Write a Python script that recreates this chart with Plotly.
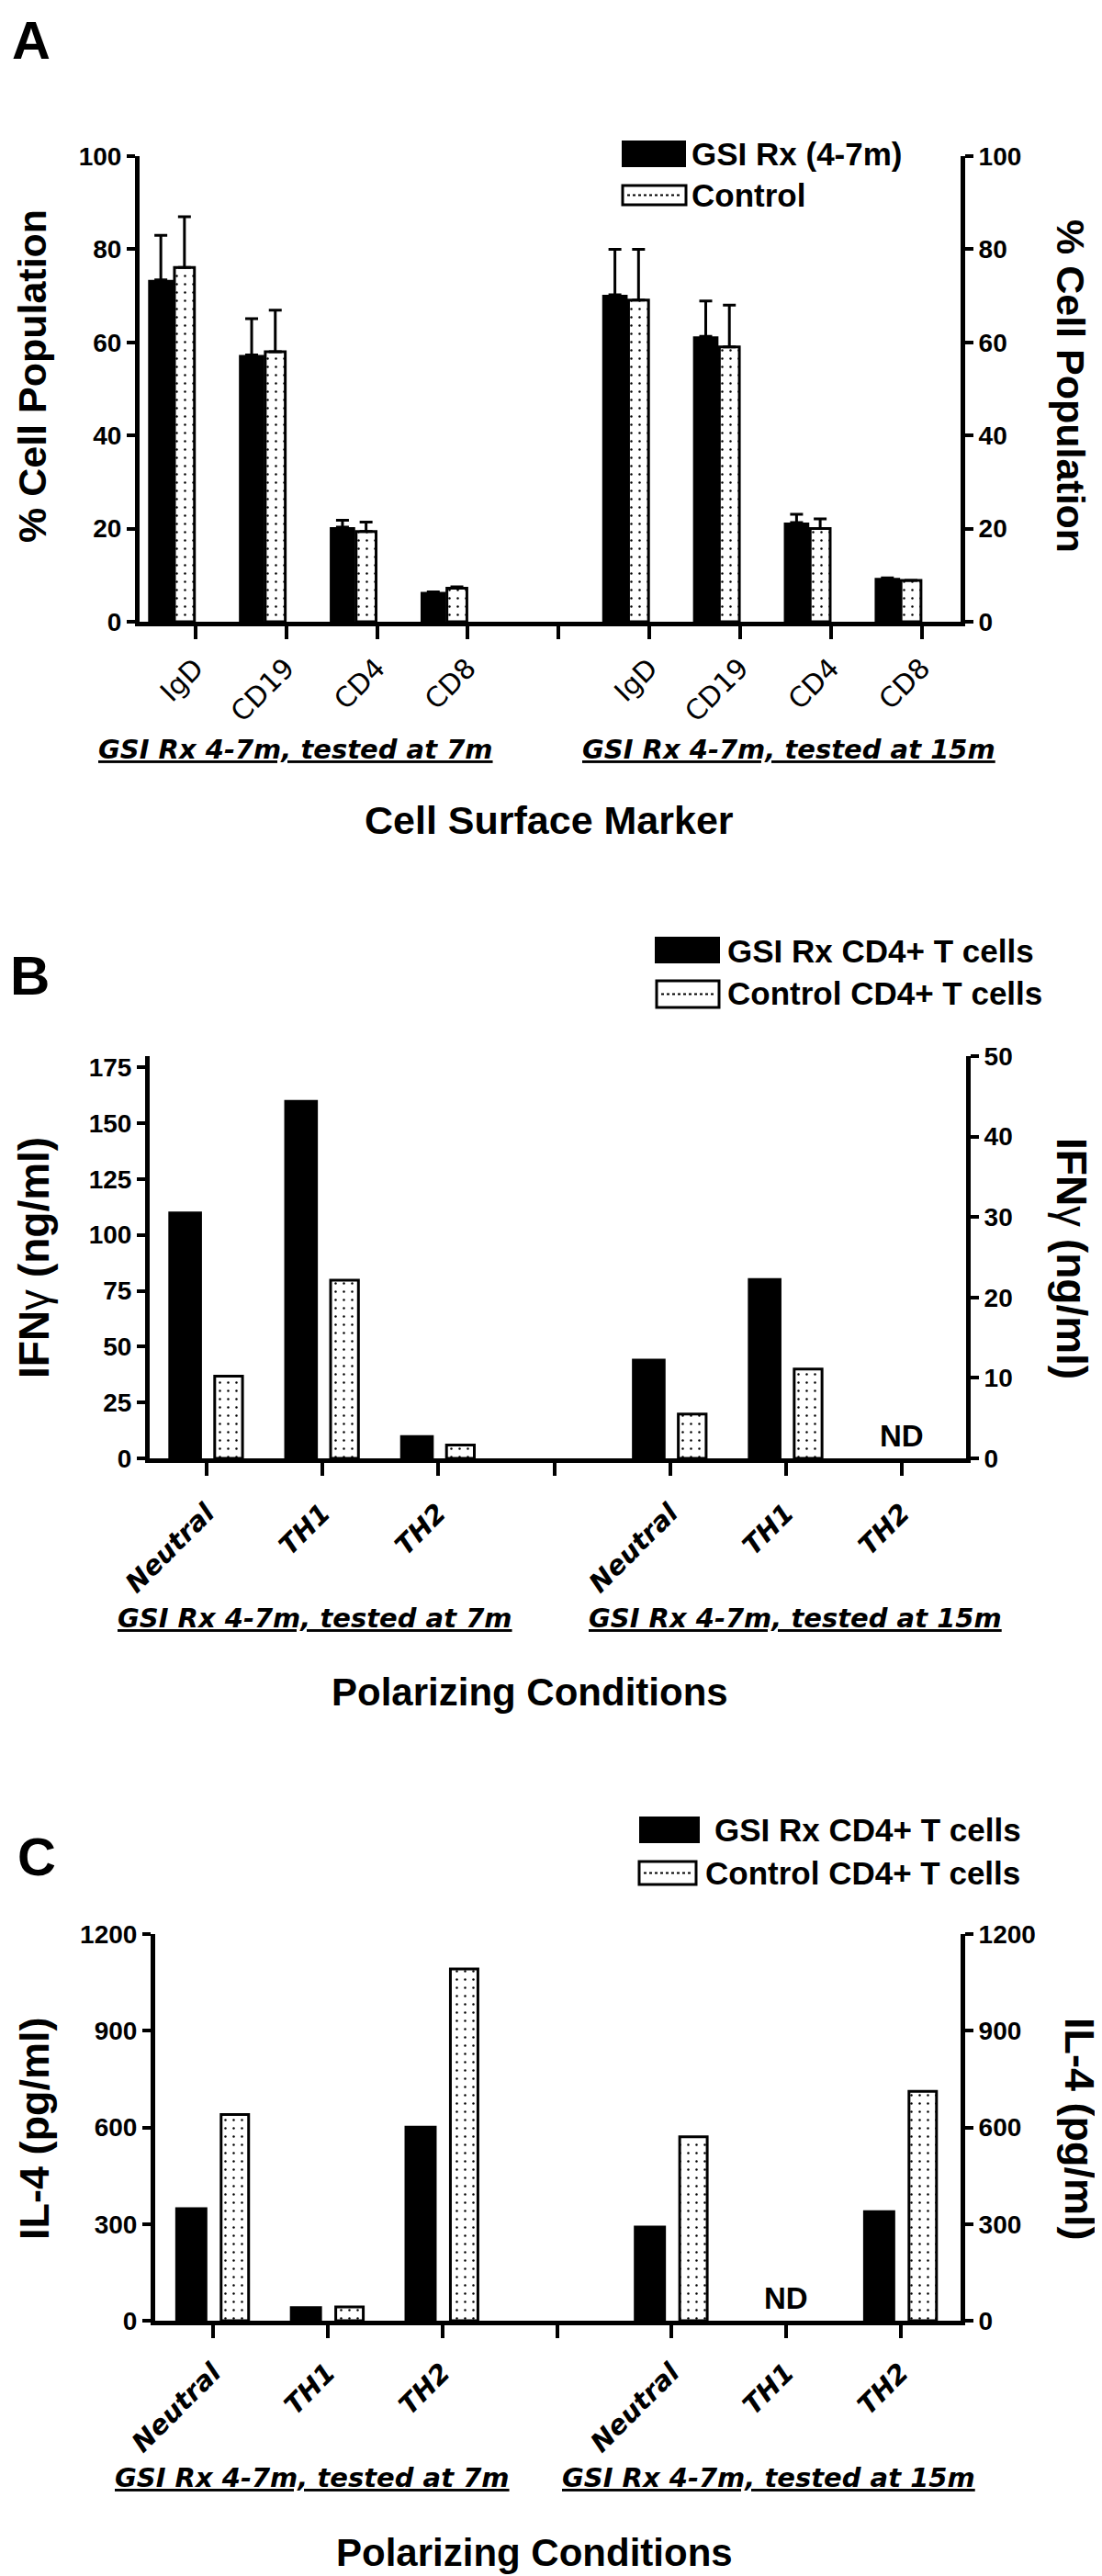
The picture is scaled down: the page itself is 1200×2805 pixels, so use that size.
import plotly.graph_objects as go

W, H = 1200, 2805
OFF = 8  # the page body keeps its default 8 px margin, so pull every placement back by it

# ---------------- data ----------------
group_labels = ["GSI Rx 4-7m, tested at 7m", "GSI Rx 4-7m, tested at 15m"]

# panel A: % cell population (mean, upper SEM)
a_markers = ["IgD", "CD19", "CD4", "CD8"]
a_gsi_7m = [73.4, 57.3, 20.3, 6.4]
a_gsi_7m_err = [9.6, 7.8, 1.5, 0.0]
a_ctrl_7m = [76.1, 58.0, 19.4, 7.2]
a_ctrl_7m_err = [10.9, 8.9, 2.0, 0.3]
a_gsi_15m = [70.2, 61.3, 21.3, 9.4]
a_gsi_15m_err = [9.8, 7.6, 1.8, 0.0]
a_ctrl_15m = [69.1, 59.0, 20.0, 8.9]
a_ctrl_15m_err = [10.9, 9.0, 2.1, 0.0]

# panel B: IFNg (ng/ml); 15m group is read on the right axis
b_conditions = ["Neutral", "TH1", "TH2"]
b_gsi_7m = [110.4, 160.4, 10.4]
b_ctrl_7m = [36.8, 79.7, 6.0]
b_gsi_15m = [12.4, 22.4, None]
b_ctrl_15m = [5.5, 11.1, None]

# panel C: IL-4 (pg/ml)
c_conditions = ["Neutral", "TH1", "TH2"]
c_gsi_7m = [352, 45, 605]
c_ctrl_7m = [640, 43, 1092]
c_gsi_15m = [295, None, 343]
c_ctrl_15m = [571, None, 712]

FONT = "Liberation Sans, Arial, Helvetica, sans-serif"
WIDE = "DejaVu Sans, Verdana, sans-serif"


def px(x):
    return (x - OFF) / W


def py(y):
    return 1 - (y - OFF) / H


fig = go.Figure()
layout = {}
annotations = []
shapes = []


def ctrl_marker():
    return dict(color="white", line=dict(color="black", width=3),
                pattern=dict(shape=".", fgcolor="black", bgcolor="white",
                             size=9, solidity=0.06, fillmode="replace"))


def add_panel(k, cats, gsi7, ctrl7, gsi15, ctrl15, box, xrange, yl, yr,
              offs, tickfont, standoff, errs=None):
    xs = "" if k == 1 else str(k)
    yl_n, yr_n = 2 * k - 1, 2 * k
    yl_s = "" if yl_n == 1 else str(yl_n)
    xname, ylname, yrname = "x" + xs, "y" + yl_s, "y" + str(yr_n)

    n = len(cats)
    pos7 = list(range(n))
    pos15 = [n + 1 + i for i in range(n)]
    gap = n

    (b_off, b_w), (c_off, c_w) = offs
    series = [(pos7, gsi7, ylname, "black", 0), (pos7, ctrl7, ylname, "ctrl", 1),
              (pos15, gsi15, yrname, "black", 2), (pos15, ctrl15, yrname, "ctrl", 3)]
    for xpos, vals, yax, kind, j in series:
        kw = dict(x=xpos, y=vals, xaxis=xname, yaxis=yax, showlegend=False)
        if kind == "black":
            kw.update(marker=dict(color="black", line=dict(width=0)), offset=b_off, width=b_w)
        else:
            kw.update(marker=ctrl_marker(), offset=c_off, width=c_w)
        if errs is not None:
            kw["error_y"] = dict(type="data", array=errs[j], arrayminus=[0] * n,
                                 symmetric=False, color="black", thickness=3, width=7)
        fig.add_trace(go.Bar(**kw))

    # ND marks where a value is missing
    for xp, v in zip(pos15, gsi15):
        if v is None:
            annotations.append(dict(x=xp, y=0, xref=xname, yref=yrname, text="ND",
                                    showarrow=False, yanchor="bottom", yshift=4,
                                    font=dict(family=FONT, size=33, color="black", weight="bold")))

    x0, x1, ytop, ybot = box
    tickvals = pos7 + [gap] + pos15
    ticktext = cats + [""] + cats
    layout["xaxis" + xs] = dict(domain=[px(x0), px(x1)], range=xrange, anchor=ylname,
                                tickvals=tickvals, ticktext=ticktext, tickangle=-45,
                                ticks="outside", ticklen=14, tickwidth=4, tickcolor="black",
                                showline=True, linewidth=5, linecolor="black",
                                showgrid=False, zeroline=False, tickfont=tickfont,
                                ticklabelstandoff=standoff, automargin=False)
    common = dict(ticks="outside", ticklen=9, tickwidth=4, tickcolor="black",
                  showline=True, linewidth=5, linecolor="black", showgrid=False,
                  zeroline=False, anchor=xname, automargin=False,
                  tickfont=dict(family=FONT, size=28, color="black", weight="bold"))
    layout["yaxis" + yl_s] = dict(domain=[py(ybot), py(ytop)], range=yl[0], tickvals=yl[1], **common)
    layout["yaxis" + str(yr_n)] = dict(range=yr[0], tickvals=yr[1], overlaying=ylname,
                                       side="right", **common)


bold_it = dict(family=WIDE, size=29, color="black", weight="bold", style="italic")

add_panel(1, a_markers, a_gsi_7m, a_ctrl_7m, a_gsi_15m, a_ctrl_15m,
          (152, 1046, 170, 677), [-0.614, 8.426],
          ([0, 100], [0, 20, 40, 60, 80, 100]), ([0, 100], [0, 20, 40, 60, 80, 100]),
          ((-0.52, 0.28), (-0.23, 0.22)),
          dict(family=WIDE, size=30, color="black"), 2,
          errs=[a_gsi_7m_err, a_ctrl_7m_err, a_gsi_15m_err, a_ctrl_15m_err])

add_panel(2, b_conditions, b_gsi_7m, b_ctrl_7m, b_gsi_15m, b_ctrl_15m,
          (163, 1052, 1150, 1588), [-0.491, 6.553],
          ([0, 180], [0, 25, 50, 75, 100, 125, 150, 175]), ([0, 50], [0, 10, 20, 30, 40, 50]),
          ((-0.33, 0.29), (0.07, 0.24)), bold_it, 12)

add_panel(3, c_conditions, c_gsi_7m, c_ctrl_7m, c_gsi_15m, c_ctrl_15m,
          (169, 1046, 2106, 2527), [-0.505, 6.52],
          ([0, 1200], [0, 300, 600, 900, 1200]), ([0, 1200], [0, 300, 600, 900, 1200]),
          ((-0.33, 0.28), (0.07, 0.24)), bold_it, 9)


def text(x, y, s, size, angle=0, xanchor="center", family=FONT, style="normal", under=False):
    f = dict(family=family, size=size, color="black", weight="bold", style=style)
    if under:
        f["lineposition"] = "under"
    annotations.append(dict(x=px(x), y=py(y), xref="paper", yref="paper", text=s,
                            showarrow=False, textangle=angle, xanchor=xanchor,
                            yanchor="middle", font=f))


# panel letters
text(34, 44, "A", 58)
text(32, 1062, "B", 60)
text(40, 2021, "C", 58)

# axis titles
gamma = "IFN<span style='font-weight:normal'>γ</span> (ng/ml)"
text(35, 410, "% Cell Population", 43, -90)
text(1166, 420, "% Cell Population", 43, 90)
text(37, 1370, gamma, 46, -90)
text(1167, 1370, gamma, 46, 90)
text(37, 2318, "IL-4 (pg/ml)", 45, -90)
text(1176, 2318, "IL-4 (pg/ml)", 45, 90)
text(598, 893, "Cell Surface Marker", 43)
text(577, 1842, "Polarizing Conditions", 42)
text(582, 2779, "Polarizing Conditions", 42)

# group captions
for (xl, xr, yy) in [(322, 859, 816), (343, 866, 1762), (340, 837, 2698)]:
    text(xl, yy, group_labels[0], 29, family=WIDE, style="italic", under=True)
    text(xr, yy, group_labels[1], 29, family=WIDE, style="italic", under=True)


# hand-drawn legends
def legend(sw_black, sw_ctrl, t1, t2, lab1, lab2):
    shapes.append(dict(type="rect", xref="paper", yref="paper",
                       x0=px(sw_black[0]), x1=px(sw_black[1]), y0=py(sw_black[3]), y1=py(sw_black[2]),
                       fillcolor="black", line=dict(width=0)))
    shapes.append(dict(type="rect", xref="paper", yref="paper",
                       x0=px(sw_ctrl[0]), x1=px(sw_ctrl[1]), y0=py(sw_ctrl[3]), y1=py(sw_ctrl[2]),
                       fillcolor="white", line=dict(color="black", width=3)))
    ym = (sw_ctrl[2] + sw_ctrl[3]) / 2
    shapes.append(dict(type="line", xref="paper", yref="paper",
                       x0=px(sw_ctrl[0] + 5), x1=px(sw_ctrl[1] - 5), y0=py(ym), y1=py(ym),
                       line=dict(color="black", width=2, dash="dot")))
    text(t1[0], t1[1], lab1, 35, xanchor="left")
    text(t2[0], t2[1], lab2, 35, xanchor="left")


legend((677, 747, 153, 182), (678, 747, 202, 223), (751, 168), (751, 212),
       "GSI Rx (4-7m)", "Control")
legend((713, 784, 1020, 1049), (715, 783, 1068, 1097), (790, 1035), (790, 1082),
       "GSI Rx CD4+ T cells", "Control CD4+ T cells")
legend((696, 762, 1978, 2007), (696, 758, 2027, 2052), (776, 1992), (766, 2040),
       "GSI Rx CD4+ T cells", "Control CD4+ T cells")

fig.update_layout(**layout)
fig.update_layout(width=W, height=H, margin=dict(l=0, r=0, t=0, b=0, autoexpand=False),
                  paper_bgcolor="white", plot_bgcolor="white",
                  barmode="overlay", showlegend=False,
                  annotations=annotations, shapes=shapes,
                  font=dict(family=FONT, color="black"))

fig.write_html("out.html")
